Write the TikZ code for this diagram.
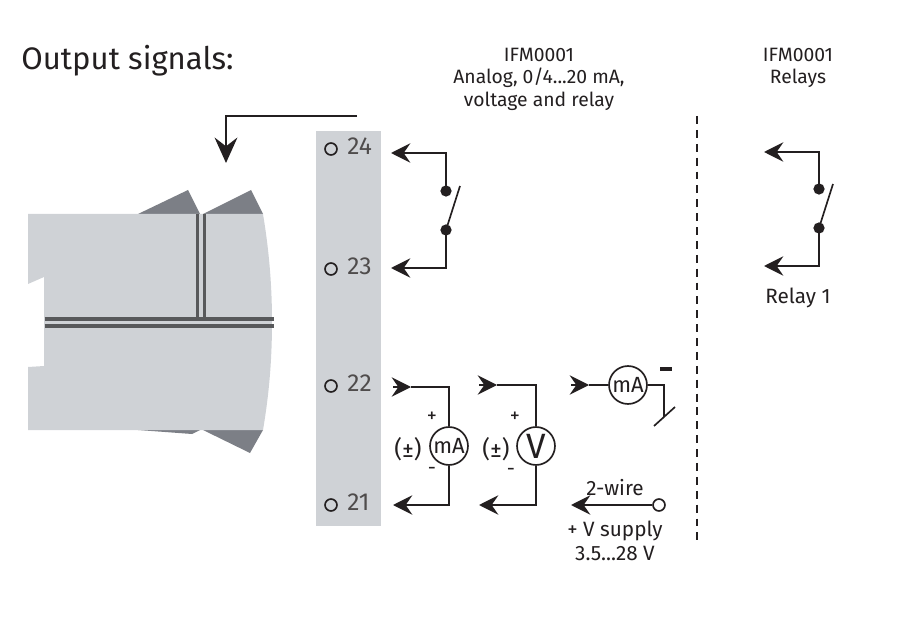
\documentclass[tikz,border=0pt]{standalone}
\usepackage{fontspec}
\setmainfont{Fira Sans}
\usetikzlibrary{arrows.meta, calc}
\definecolor{bodygray}{HTML}{CFD2D6}
\definecolor{tabgray}{HTML}{7C7F86}
\definecolor{slotgray}{HTML}{58595B}
\definecolor{inkblack}{HTML}{231F20}
\tikzset{
    wire/.style={draw=inkblack, line width=0.95pt},
    tipped/.style={wire, -{Stealth[length=11pt, width=11pt, inset=3.8pt]}},
    bigtipped/.style={wire, -{Stealth[length=14.5pt, width=13pt, inset=5pt]}},
    meter/.style={circle, draw=inkblack, line width=0.95pt, fill=white, minimum size=21.6pt, inner sep=0pt, text=inkblack},
    dot/.style={circle, fill=inkblack, minimum size=6.4pt, inner sep=0pt},
    terminal/.style={circle, draw=inkblack, line width=0.95pt, minimum size=6.8pt, inner sep=0pt},
    slot/.style={draw=slotgray, line width=1.9pt},
    label/.style={text=inkblack, font=\fontsize{11}{12.8}\selectfont, inner sep=0pt, align=center},
    biglabel/.style={label, font=\fontsize{11.8}{13.4}\selectfont},
    small/.style={text=inkblack, font=\fontsize{11.5}{12}\selectfont, inner sep=0pt},
    num/.style={text=inkblack!80, font=\fontsize{14}{15}\selectfont, inner sep=0pt}
}
\begin{document}
\begin{tikzpicture}[x=0.02cm, y=-0.02cm]
    \useasboundingbox (0,0) rectangle (897,625);
    \node[anchor=west, text=inkblack, font=\fontsize{17.7}{22}\selectfont, inner sep=0pt] (title) at (21,61) {Output signals:};
    \node[label] (headA) at (539,79) {IFM0001\\Analog, 0/4...20 mA,\\voltage and relay};
    \node[label] (headB) at (798,68) {IFM0001\\Relays};

    % device body
    \fill[tabgray] (138,214) -- (188,190) -- (200,214) -- cycle;
    \fill[tabgray] (203,214) -- (251,190) -- (263,214) -- cycle;
    \fill[tabgray] (138,430) -- (192,434) -- (200,430) -- cycle;
    \fill[tabgray] (203,430) -- (250,453) -- (263,430) -- cycle;
    \fill[bodygray] (28,214) -- (263,214) .. controls (269,250) and (272,285) .. (272,322)
        .. controls (272,360) and (269,395) .. (263,430) -- (28,430) -- (28,367) -- (44,366) -- (44,277) -- (28,284) -- cycle;
    \draw[slot] (197.5,214) -- (197.5,318);% double slot, vertical
    \draw[slot] (204.7,214) -- (204.7,318);
    \draw[slot] (44.5,319) -- (274,319);% double slot, horizontal
    \draw[slot] (44.5,326) -- (274,326);
    \coordinate (feedA) at (357,116);
    \coordinate (feedB) at (226,163);
    \draw[bigtipped] (feedA) -| (feedB);

    % terminal strip
    \fill[bodygray] (316,131) rectangle (381,526);
    \foreach \t/\y in {24/149, 23/269, 22/386, 21/505} {
        \node[terminal] (t\t) at (331,\y) {};
        \node[num, anchor=west] (n\t) at (347,\y-2.5) {\t};
    }

    % relay on 24/23
    \coordinate (tipA) at (391,153);
    \coordinate (tipB) at (391,268);
    \coordinate (armA) at (460,186);
    \node[dot] (dotA) at (446,191) {};
    \node[dot] (dotB) at (446,230) {};
    \draw[tipped] (dotA.center) |- (tipA);
    \draw[tipped] (dotB.center) |- (tipB);
    \draw[wire] (dotB.center) -- (armA);

    % mA sink on 22/21
    \node[meter, font=\fontsize{12.5}{14}\selectfont] (mA) at (449,446) {mA};
    \coordinate (inA) at (393,387);
    \coordinate (inAb) at (411,387);
    \coordinate (outA) at (393,505);
    \draw[tipped] (inA) -- (inAb);
    \draw[wire] (inAb) -| (mA.north);
    \draw[tipped] (mA.south) |- (outA);
    \node[small] (plusA) at (432,417) {+};
    \node[small] (minusA) at (432,471) {-};
    \node[label, font=\fontsize{13.5}{14}\selectfont] (pmA) at (408,449) {(±)};

    % voltmeter
    \node[meter, font=\fontsize{20}{22}\selectfont] (V) at (536,446) {V};
    \coordinate (inV) at (479,385);
    \coordinate (inVb) at (497,385);
    \coordinate (outV) at (479,505);
    \draw[tipped] (inV) -- (inVb);
    \draw[wire] (inVb) -| (V.north);
    \draw[tipped] (V.south) |- (outV);
    \node[small] (plusV) at (515,417) {+};
    \node[small] (minusV) at (511,472) {-};
    \node[label, font=\fontsize{13.5}{14}\selectfont] (pmV) at (496,449) {(±)};

    % 2-wire meter
    \node[meter, font=\fontsize{12.5}{14}\selectfont] (mB) at (628,385) {mA};
    \coordinate (inB) at (571,385);
    \coordinate (inBb) at (589,385);
    \coordinate (armB) at (654,426);
    \coordinate (armC) at (675,407);
    \coordinate (armD) at (664,417);
    \coordinate (barA) at (660,369);
    \coordinate (barB) at (672,369);
    \draw[tipped] (inB) -- (inBb);
    \draw[wire] (inBb) -- (mB);
    \draw[wire] (mB.east) -| (armD);
    \draw[wire] (armB) -- (armC);
    \draw[draw=inkblack, line width=1.9pt] (barA) -- (barB);
    \node[terminal] (supply) at (659,505) {};
    \coordinate (supplyTip) at (571,505);
    \draw[tipped] (supply) -- (supplyTip);
    \node[biglabel] (wires) at (615,488) {2-wire};
    \node[biglabel] (supplyText) at (615,541) {+ V supply\\3.5...28 V};

    % separator
    \draw[draw=inkblack, line width=0.7pt, dash pattern=on 4.5pt off 3.4pt] (697,116) -- (697,541);

    % relay 1
    \coordinate (tipC) at (764,152);
    \coordinate (tipD) at (764,266);
    \coordinate (armE) at (833,184);
    \node[dot] (dotC) at (819,189) {};
    \node[dot] (dotD) at (819,228) {};
    \draw[tipped] (dotC.center) |- (tipC);
    \draw[tipped] (dotD.center) |- (tipD);
    \draw[wire] (dotD.center) -- (armE);
    \node[biglabel] (relay) at (798,298) {Relay 1};
\end{tikzpicture}
\end{document}
